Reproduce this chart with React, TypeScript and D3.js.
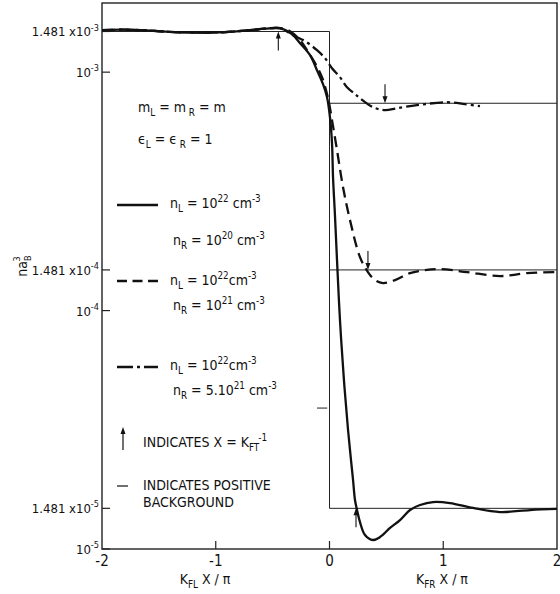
import React from 'react';
import * as d3 from 'd3';

const W = 560,
  H = 594;
const plot = { left: 102, right: 557, top: 3, bottom: 549 };

// axis ticks
const xTicks = [-2, -1, 0, 1, 2];
const xTickLabels = ['-2', '-1', '0', '1', '2'];
const yTicks = [1.481e-3, 1e-3, 1.481e-4, 1e-4, 1.481e-5, 1e-5];
const yTickMantissa = ['1.481 x10', '10', '1.481 x10', '10', '1.481 x10', '10'];
const yTickExp = ['-3', '-3', '-4', '-4', '-5', '-5'];

// positive background (step functions)
const leftBackground = 1.481e-3;
const rightBackgrounds = [1.481e-5, 1.481e-4, 7.405e-4];

// [K x / pi, n a_B^3]
const sharedLeft: [number, number][] = [
  [-2.0, 1.5e-3],
  [-1.8, 1.507e-3],
  [-1.578, 1.493e-3],
  [-1.358, 1.472e-3],
  [-1.138, 1.465e-3],
  [-0.919, 1.472e-3],
  [-0.699, 1.5e-3],
  [-0.567, 1.521e-3],
  [-0.435, 1.529e-3],
];

const solidRight: [number, number][] = [
  [-0.33, 1.443e-3],
  [-0.259, 1.323e-3],
  [-0.171, 1.178e-3],
  [-0.11, 1.019e-3],
  [-0.057, 8.9e-4],
  [-0.022, 7.86e-4],
  [0.004, 6.48e-4],
  [0.022, 5.04e-4],
  [0.031, 3.63e-4],
  [0.048, 2.51e-4],
  [0.066, 1.628e-4],
  [0.092, 9.13e-5],
  [0.127, 5.11e-5],
  [0.163, 3.155e-5],
  [0.189, 2.36e-5],
  [0.207, 1.947e-5],
  [0.224, 1.605e-5],
  [0.242, 1.457e-5],
  [0.268, 1.297e-5],
  [0.312, 1.145e-5],
  [0.382, 1.091e-5],
  [0.444, 1.122e-5],
  [0.532, 1.225e-5],
  [0.62, 1.323e-5],
  [0.708, 1.457e-5],
  [0.796, 1.529e-5],
  [0.91, 1.574e-5],
  [1.059, 1.559e-5],
  [1.262, 1.486e-5],
  [1.499, 1.429e-5],
  [1.763, 1.457e-5],
  [2.0, 1.472e-5],
];

const dashedRight: [number, number][] = [
  [-0.347, 1.486e-3],
  [-0.259, 1.362e-3],
  [-0.198, 1.236e-3],
  [-0.127, 1.091e-3],
  [-0.066, 9.53e-4],
  [-0.013, 7.78e-4],
  [0.022, 6.29e-4],
  [0.066, 4.71e-4],
  [0.119, 3.29e-4],
  [0.18, 2.4e-4],
  [0.268, 1.676e-4],
  [0.338, 1.45e-4],
  [0.4, 1.342e-4],
  [0.47, 1.304e-4],
  [0.576, 1.342e-4],
  [0.708, 1.436e-4],
  [0.84, 1.478e-4],
  [0.971, 1.493e-4],
  [1.209, 1.45e-4],
  [1.499, 1.395e-4],
  [1.736, 1.436e-4],
  [2.0, 1.45e-4],
];

const dashDotRight: [number, number][] = [
  [-0.321, 1.429e-3],
  [-0.215, 1.349e-3],
  [-0.11, 1.236e-3],
  [-0.04, 1.145e-3],
  [0.022, 1.039e-3],
  [0.092, 9.53e-4],
  [0.154, 8.65e-4],
  [0.224, 8.09e-4],
  [0.268, 7.78e-4],
  [0.382, 7.13e-4],
  [0.488, 6.93e-4],
  [0.593, 7.06e-4],
  [0.769, 7.27e-4],
  [1.033, 7.48e-4],
  [1.191, 7.34e-4],
  [1.323, 7.2e-4],
];

// arrows marking x = 1/K_FT
const arrows = [
  { x: -0.45, v: 1.481e-3, dir: 'up' },
  { x: 0.233, v: 1.481e-5, dir: 'up' },
  { x: 0.338, v: 1.481e-4, dir: 'down' },
  { x: 0.488, v: 7.405e-4, dir: 'down' },
];

const FONT = "'Liberation Sans Narrow', 'DejaVu Sans Condensed', 'Arial Narrow', sans-serif";

type Part = [string, string];

const Rich = ({ x, y, parts, size, anchor = 'start' }: any) => {
  let shift = 0;
  return (
    <text x={x} y={y} fontSize={size} textAnchor={anchor} fontFamily={FONT} fill="#111">
      {parts.map(([t, k]: Part, i: number) => {
        const target = k === 'sup' ? -size * 0.45 : k === 'sub' ? size * 0.3 : 0;
        const dy = target - shift;
        shift = target;
        return (
          <tspan key={i} dy={dy} fontSize={k ? size * 0.7 : size}>
            {t}
          </tspan>
        );
      })}
    </text>
  );
};

const App = () => {
  const x = d3.scaleLinear().domain([-2, 2]).range([plot.left, plot.right]);
  const y = d3.scaleLog().domain([1e-5, 1.95e-3]).range([plot.bottom, plot.top]);

  const line = d3
    .line<[number, number]>()
    .x((d) => x(d[0]))
    .y((d) => y(d[1]))
    .curve(d3.curveCatmullRom.alpha(0.5));

  const series = [
    { pts: [...sharedLeft, ...solidRight], dash: null },
    { pts: [...sharedLeft, ...dashedRight], dash: '11 6' },
    { pts: [...sharedLeft, ...dashDotRight], dash: '13 4 3 4' },
  ];

  const legendTexts: Part[][] = [
    [['n', ''], ['L', 'sub'], [' = 10', ''], ['22', 'sup'], [' cm', ''], ['-3', 'sup']],
    [['n', ''], ['R', 'sub'], [' = 10', ''], ['20', 'sup'], [' cm', ''], ['-3', 'sup']],
    [['n', ''], ['L', 'sub'], [' = 10', ''], ['22', 'sup'], ['cm', ''], ['-3', 'sup']],
    [['n', ''], ['R', 'sub'], [' = 10', ''], ['21', 'sup'], [' cm', ''], ['-3', 'sup']],
    [['n', ''], ['L', 'sub'], [' = 10', ''], ['22', 'sup'], ['cm', ''], ['-3', 'sup']],
    [['n', ''], ['R', 'sub'], [' = 5.10', ''], ['21', 'sup'], [' cm', ''], ['-3', 'sup']],
  ];
  const legendY = [208, 245, 285, 310, 370, 395];
  const legendLineY = [205, 281, 367];

  return (
    <svg
      width={W}
      height={H}
      style={{ position: 'absolute', left: 0, top: 0, background: '#fff' }}
    >
      {/* frame */}
      <rect
        x={plot.left}
        y={plot.top}
        width={plot.right - plot.left}
        height={plot.bottom - plot.top}
        fill="none"
        stroke="#222"
        strokeWidth={1.4}
      />

      {/* y ticks */}
      {yTicks.map((t, i) => (
        <g key={i}>
          <line x1={plot.left} x2={plot.left + 8} y1={y(t)} y2={y(t)} stroke="#222" strokeWidth={1.2} />
          <Rich
            x={99}
            y={y(t) + 5}
            size={13}
            anchor="end"
            parts={[
              [yTickMantissa[i], ''],
              [yTickExp[i], 'sup'],
            ]}
          />
        </g>
      ))}

      {/* x ticks */}
      {xTicks.map((t, i) => (
        <g key={i}>
          {i > 0 && i < xTicks.length - 1 && (
            <line x1={x(t)} x2={x(t)} y1={plot.bottom} y2={plot.bottom - 8} stroke="#222" strokeWidth={1.2} />
          )}
          <text x={x(t)} y={566} fontSize={15} textAnchor="middle" fontFamily={FONT} fill="#111">
            {xTickLabels[i]}
          </text>
        </g>
      ))}

      {/* axis titles */}
      <Rich x={205} y={584} size={14} anchor="middle" parts={[['K', ''], ['FL', 'sub'], [' X / π', '']]} />
      <Rich x={442} y={584} size={14} anchor="middle" parts={[['K', ''], ['FR', 'sub'], [' X / π', '']]} />
      <g transform="translate(27,266) rotate(-90)">
        <text x={0} y={0} fontSize={14} textAnchor="middle" fontFamily={FONT} fill="#111">
          <tspan>na</tspan>
          <tspan fontSize={9} dy={4}>B</tspan>
          <tspan fontSize={9} dx={-6} dy={-11}>3</tspan>
        </text>
      </g>

      {/* positive background steps */}
      <g stroke="#222" strokeWidth={1} fill="none">
        <line x1={x(-2)} x2={x(0)} y1={y(leftBackground)} y2={y(leftBackground)} />
        <line x1={x(0)} x2={x(0)} y1={y(leftBackground)} y2={y(d3.min(rightBackgrounds)!)} />
        {rightBackgrounds.map((b, i) => (
          <line key={i} x1={x(0)} x2={x(2)} y1={y(b)} y2={y(b)} />
        ))}
      </g>
      <line x1={x(-0.11)} x2={x(-0.02)} y1={y(3.9e-5)} y2={y(3.9e-5)} stroke="#222" strokeWidth={1} />

      {/* curves */}
      {series.map((s, i) => (
        <path
          key={i}
          d={line(s.pts) || ''}
          fill="none"
          stroke="#111"
          strokeWidth={2.3}
          strokeDasharray={s.dash || undefined}
          strokeLinejoin="round"
        />
      ))}

      {/* arrows */}
      {arrows.map((a, i) => {
        const px = x(a.x);
        const tip = y(a.v);
        const s = a.dir === 'up' ? 1 : -1;
        const tail = tip + s * 19;
        return (
          <g key={i} stroke="#111" fill="#111">
            <line x1={px} x2={px} y1={tail} y2={tip + s * 5} strokeWidth={1.1} />
            <path d={`M${px},${tip} L${px - 2.5},${tip + s * 7} L${px + 2.5},${tip + s * 7} Z`} stroke="none" />
          </g>
        );
      })}

      {/* legend / annotations */}
      <Rich x={138} y={112} size={14} parts={[['m', ''], ['L', 'sub'], [' = m', ''], [' R', 'sub'], ['  = m', '']]} />
      <Rich x={138} y={144} size={14} parts={[['ϵ', ''], ['L', 'sub'], [' = ϵ', ''], [' R', 'sub'], ['  = 1', '']]} />

      <line x1={117} x2={158} y1={legendLineY[0]} y2={legendLineY[0]} stroke="#111" strokeWidth={2.3} />
      <line x1={117} x2={158} y1={legendLineY[1]} y2={legendLineY[1]} stroke="#111" strokeWidth={2.3} strokeDasharray="10 5.5" />
      <line x1={117} x2={158} y1={legendLineY[2]} y2={legendLineY[2]} stroke="#111" strokeWidth={2.3} strokeDasharray="16 4 3 4" />
      {legendTexts.map((p, i) => (
        <Rich key={i} x={i % 2 === 0 ? 170 : 173} y={legendY[i]} size={14} parts={p} />
      ))}

      <g stroke="#111" fill="#111">
        <line x1={123} x2={123} y1={450} y2={432} strokeWidth={1.2} />
        <path d="M123,427 L120.5,434 L125.5,434 Z" stroke="none" />
      </g>
      <Rich x={143} y={447} size={14} parts={[['INDICATES  X = K', ''], ['FT', 'sub'], ['-1', 'sup']]} />
      <line x1={117} x2={128} y1={486} y2={486} stroke="#111" strokeWidth={1.2} />
      <Rich x={143} y={490} size={14} parts={[['INDICATES  POSITIVE', '']]} />
      <Rich x={143} y={507} size={14} parts={[['BACKGROUND', '']]} />
    </svg>
  );
};

export default App;
